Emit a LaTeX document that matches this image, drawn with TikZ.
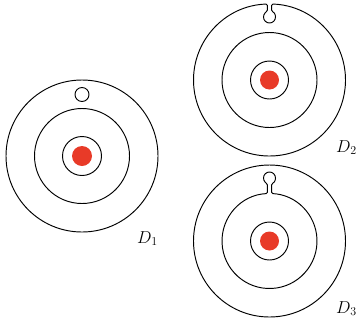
\documentclass[tikz,border=0pt]{standalone}
\usepackage{xcolor}
\definecolor{dotred}{RGB}{232,58,40}
\begin{document}
\begin{tikzpicture}[x=1pt,y=1pt,
  ring/.style={draw=black,line width=0.95pt},
  reddot/.style={fill=dotred,draw=none},
  lbl/.style={anchor=base west,inner sep=0pt,font=\fontsize{18}{21}\selectfont}]
\useasboundingbox (0,0) rectangle (358,-325);
\def\w{2.2}\def\rk{6}\def\Ky{63}
% D1
\begin{scope}[shift={(82,-156)}]
  \draw[ring] (0,0) circle[radius=76];
  \draw[ring] (0,0) circle[radius=47.5];
  \draw[ring] (0,0) circle[radius=19.5];
  \fill[reddot] (0,0) circle[radius=10];
  \draw[ring] (0,61.5) circle[radius=7];
\end{scope}
\node[lbl] (d1) at (137,-243) {$D_1$};
% D2
\begin{scope}[shift={(269.5,-80)}]
  \draw[ring,rounded corners=1.2pt] ({90+asin(\w/76)}:76) arc[start angle={90+asin(\w/76)}, end angle={450-asin(\w/76)}, radius=76]
    -- ({\w},{\Ky+sqrt(\rk*\rk-\w*\w)}) arc[start angle={90-asin(\w/\rk)}, end angle={-270+asin(\w/\rk)}, radius=\rk] -- cycle;
  \draw[ring] (0,0) circle[radius=47.5];
  \draw[ring] (0,0) circle[radius=19];
  \fill[reddot] (0,0) circle[radius=9.5];
\end{scope}
\node[lbl] (d2) at (336,-152) {$D_2$};
% D3
\begin{scope}[shift={(269.5,-241)}]
  \draw[ring] (0,0) circle[radius=76];
  \draw[ring,rounded corners=1.2pt] ({90+asin(\w/47.5)}:47.5) arc[start angle={90+asin(\w/47.5)}, end angle={450-asin(\w/47.5)}, radius=47.5]
    -- ({\w},{\Ky-sqrt(\rk*\rk-\w*\w)}) arc[start angle={-90+asin(\w/\rk)}, end angle={270-asin(\w/\rk)}, radius=\rk] -- cycle;
  \draw[ring] (0,0) circle[radius=19];
  \fill[reddot] (0,0) circle[radius=9.5];
\end{scope}
\node[lbl] (d3) at (336,-313) {$D_3$};
\end{tikzpicture}
\end{document}
